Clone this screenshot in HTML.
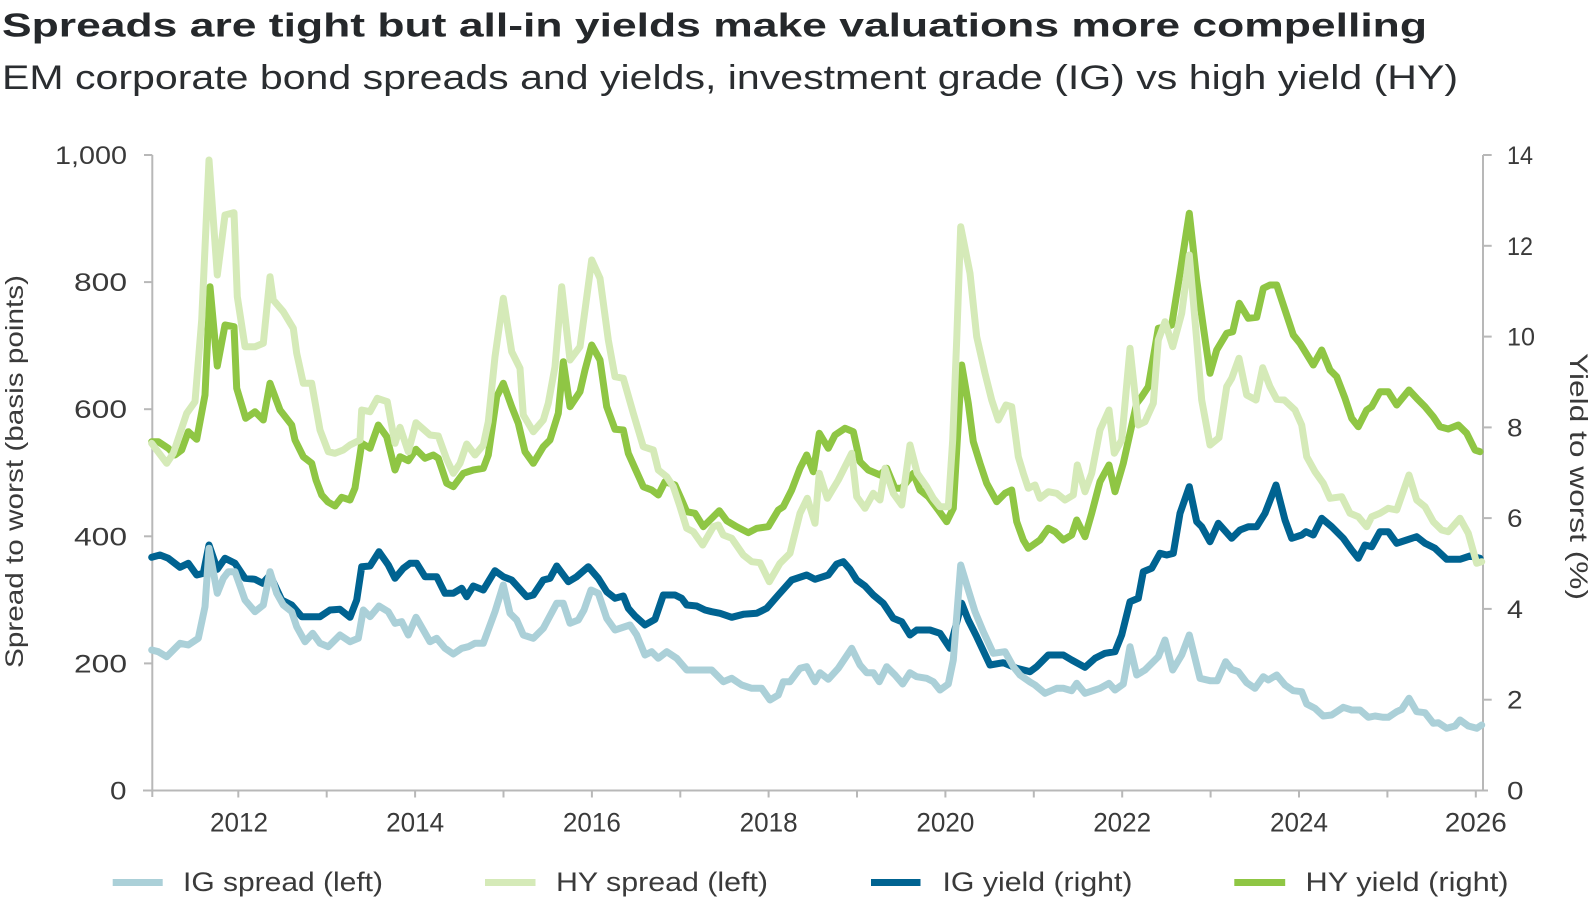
<!DOCTYPE html>
<html>
<head>
<meta charset="utf-8">
<style>
  html, body { margin: 0; padding: 0; background: #ffffff; }
  svg { display: block; }
  text { font-family: "Liberation Sans", "DejaVu Sans", sans-serif; }
</style>
</head>
<body>
<svg width="1593" height="900" viewBox="0 0 1593 900" xmlns="http://www.w3.org/2000/svg">
  <rect x="0" y="0" width="1593" height="900" fill="#ffffff"/>

  <!-- Title & subtitle -->
  <text x="2" y="36.5" font-size="33" font-weight="bold" fill="#25282b" textLength="1425" lengthAdjust="spacingAndGlyphs">Spreads are tight but all-in yields make valuations more compelling</text>
  <text x="2" y="89" font-size="34" fill="#2a2d30" textLength="1456" lengthAdjust="spacingAndGlyphs">EM corporate bond spreads and yields, investment grade (IG) vs high yield (HY)</text>

  <!-- Axes -->
  <g stroke="#b8b8b8" stroke-width="2" fill="none">
    <line x1="152.3" y1="155" x2="152.3" y2="797"/>
    <line x1="143" y1="790.5" x2="1488" y2="790.5"/>
    <line x1="1483" y1="155" x2="1483" y2="790.5"/>
    <line x1="144" y1="155" x2="152.3" y2="155"/>
    <line x1="144" y1="282.1" x2="152.3" y2="282.1"/>
    <line x1="144" y1="409.2" x2="152.3" y2="409.2"/>
    <line x1="144" y1="536.3" x2="152.3" y2="536.3"/>
    <line x1="144" y1="663.4" x2="152.3" y2="663.4"/>
    <line x1="1483" y1="155" x2="1491.7" y2="155"/>
    <line x1="1483" y1="245.8" x2="1491.7" y2="245.8"/>
    <line x1="1483" y1="336.6" x2="1491.7" y2="336.6"/>
    <line x1="1483" y1="427.4" x2="1491.7" y2="427.4"/>
    <line x1="1483" y1="518.1" x2="1491.7" y2="518.1"/>
    <line x1="1483" y1="608.9" x2="1491.7" y2="608.9"/>
    <line x1="1483" y1="699.7" x2="1491.7" y2="699.7"/>
    <line x1="238.3" y1="790.5" x2="238.3" y2="797.5"/>
    <line x1="326.7" y1="790.5" x2="326.7" y2="797.5"/>
    <line x1="415.1" y1="790.5" x2="415.1" y2="797.5"/>
    <line x1="503.5" y1="790.5" x2="503.5" y2="797.5"/>
    <line x1="591.9" y1="790.5" x2="591.9" y2="797.5"/>
    <line x1="680.3" y1="790.5" x2="680.3" y2="797.5"/>
    <line x1="768.6" y1="790.5" x2="768.6" y2="797.5"/>
    <line x1="857.0" y1="790.5" x2="857.0" y2="797.5"/>
    <line x1="945.4" y1="790.5" x2="945.4" y2="797.5"/>
    <line x1="1033.8" y1="790.5" x2="1033.8" y2="797.5"/>
    <line x1="1122.2" y1="790.5" x2="1122.2" y2="797.5"/>
    <line x1="1210.6" y1="790.5" x2="1210.6" y2="797.5"/>
    <line x1="1299.0" y1="790.5" x2="1299.0" y2="797.5"/>
    <line x1="1387.4" y1="790.5" x2="1387.4" y2="797.5"/>
    <line x1="1475.8" y1="790.5" x2="1475.8" y2="797.5"/>
  </g>

  <!-- Left tick labels -->
  <g font-size="25" fill="#3a3a3a">
    <text x="55" y="164" textLength="72" lengthAdjust="spacingAndGlyphs">1,000</text>
    <text x="74" y="291.1" textLength="53" lengthAdjust="spacingAndGlyphs">800</text>
    <text x="74" y="418.2" textLength="53" lengthAdjust="spacingAndGlyphs">600</text>
    <text x="74" y="545.3" textLength="53" lengthAdjust="spacingAndGlyphs">400</text>
    <text x="74" y="672.4" textLength="53" lengthAdjust="spacingAndGlyphs">200</text>
    <text x="110" y="799.5" textLength="16.5" lengthAdjust="spacingAndGlyphs">0</text>
  </g>

  <!-- Right tick labels -->
  <g font-size="25" fill="#3a3a3a">
    <text x="1507" y="164" textLength="26" lengthAdjust="spacingAndGlyphs">14</text>
    <text x="1507" y="254.8" textLength="26" lengthAdjust="spacingAndGlyphs">12</text>
    <text x="1507" y="345.6" textLength="28" lengthAdjust="spacingAndGlyphs">10</text>
    <text x="1507" y="436.4" textLength="15.5" lengthAdjust="spacingAndGlyphs">8</text>
    <text x="1507" y="527.1" textLength="15.5" lengthAdjust="spacingAndGlyphs">6</text>
    <text x="1507" y="617.9" textLength="16" lengthAdjust="spacingAndGlyphs">4</text>
    <text x="1507" y="708.7" textLength="15.5" lengthAdjust="spacingAndGlyphs">2</text>
    <text x="1507" y="799.5" textLength="16.5" lengthAdjust="spacingAndGlyphs">0</text>
  </g>

  <!-- X tick labels -->
  <g font-size="27" fill="#3a3a3a" text-anchor="middle">
    <text x="239" y="831.5" textLength="58" lengthAdjust="spacingAndGlyphs">2012</text>
    <text x="415.1" y="831.5" textLength="58" lengthAdjust="spacingAndGlyphs">2014</text>
    <text x="591.9" y="831.5" textLength="58" lengthAdjust="spacingAndGlyphs">2016</text>
    <text x="768.6" y="831.5" textLength="58" lengthAdjust="spacingAndGlyphs">2018</text>
    <text x="945.4" y="831.5" textLength="58" lengthAdjust="spacingAndGlyphs">2020</text>
    <text x="1122.2" y="831.5" textLength="58" lengthAdjust="spacingAndGlyphs">2022</text>
    <text x="1299.0" y="831.5" textLength="58" lengthAdjust="spacingAndGlyphs">2024</text>
    <text x="1475.8" y="831.5" textLength="62" lengthAdjust="spacingAndGlyphs">2026</text>
  </g>

  <!-- Axis titles -->
  <text transform="translate(23,471.5) rotate(-90)" font-size="25" fill="#3a3a3a" text-anchor="middle" textLength="393" lengthAdjust="spacingAndGlyphs">Spread to worst (basis points)</text>
  <text transform="translate(1570,476.5) rotate(90)" font-size="25" fill="#3a3a3a" text-anchor="middle" textLength="247" lengthAdjust="spacingAndGlyphs">Yield to worst (%)</text>

  <!-- Series -->
  <g fill="none" stroke-width="7" stroke-linejoin="round" stroke-linecap="round">
    <polyline stroke="#006391" points="151.7,557.3 160,555 168.3,558.3 180,567.3 188.3,563.3 196.7,575 203.3,573.3 209,545 217.3,569.3 225,558.3 235,563.3 245,578.3 255,579.3 262.7,583.3 270,575 281.7,600 291.7,605 301.7,616.7 320,616.7 330,610 340,609.3 350,617.3 356.7,600 361.7,566.7 370,566 379,551.7 388.3,565 395,578.3 403.3,568.3 410,563.3 416.7,563.3 425,576.7 436.7,576.7 445,593.3 453.3,593.3 461.7,588.3 466.7,596.7 473.3,586 483.3,590 495,570.7 503.3,576.7 511.7,580 526.7,596.7 533.3,595 543.3,580 550,578.3 556.7,566 568.3,581.7 576.7,576.7 588.3,566.7 598.3,578.3 606.7,591.7 615,598.3 623.3,596 628.3,608.3 635,616 645,625 655,619.3 663.3,595 675,595 681.7,598.3 686.7,605 696.7,606 705,610 711.7,611.7 720,613.3 731.7,617.3 743.3,614.3 756.7,613.3 766.7,608.3 778.3,595 791.7,580 806.7,575 815,579.3 828.3,575 836.7,564 843.3,561.7 850,569.3 856.7,580 865,586 873.3,595 883.3,603.3 893.3,618.3 901.7,621.7 910,635 916.7,630 930,630 940,633.3 950,648.3 961.7,603.3 968.3,620 976.7,636.7 990,665 1003.3,662.7 1016.7,668.3 1030,671.7 1036.7,666.7 1048.3,655 1063.3,655 1071.7,660 1085,667.3 1095,658.3 1105,653.3 1115,651.7 1121.7,635 1130,601.7 1138.3,598.3 1143.3,571.7 1151.7,568.3 1160,553.3 1166.7,555 1173.3,553.3 1180,513.3 1189.3,486.7 1196.7,521.7 1201.7,526.7 1210,541.7 1218.3,523.3 1231.7,538.3 1240,530 1248.3,526.7 1256.7,526.7 1265,513.3 1276,485 1285,520 1291.7,538.3 1301.7,535 1306,531.7 1313.3,535 1321.7,518.3 1331.7,526.7 1343.3,538.3 1351.7,550 1358.3,558.3 1365,545 1371.7,546.7 1380,531.7 1388.3,531.7 1396.7,543.3 1406.7,540 1416.7,536.7 1425,543.3 1435,548.3 1446.7,559.3 1460,559.3 1470,556 1480,558.3"/>
    <polyline stroke="#8fc644" points="151.7,441.7 158.3,441.7 168.3,448.3 175,455 181.7,450 188.3,431.7 196.7,439.3 205,395 210,286.7 217.3,366 225,325 234,326.7 236.7,388.3 245.7,418.3 255,411.7 263.3,420 270,383.3 280,410 291.7,425 295,440 303.3,456.7 311.7,463.3 316,480 321.7,495 328,502 335,506 341.7,497.3 350,500 355,488 361.7,443.3 370,448.3 378.3,425 386.7,436.7 395,470 400,456.7 408.3,460.7 416,449.3 425,458.3 433.3,455 438.3,458.3 446.7,483.3 453.3,486.7 463.3,473.3 473.3,470 483.3,468.3 488.3,455 496.7,396.7 503.3,383.3 511.7,406.7 518.3,423.3 525,451.7 533.3,463.3 543.3,446.7 550,440 558.3,413.3 563.3,361.7 570,406.7 580,391.7 585,370 591.7,345 600,360 606.7,406.7 615,429.3 623.3,430 628.3,453.3 635,468.3 643.3,486.7 651.7,490 658.3,495 665,481.7 675,485 681.7,500 686.7,511.7 695,513.3 703.3,526.7 711.7,518.3 719.3,510.7 726.7,520.7 736.7,526.7 748.3,532.7 756.7,528.3 768.3,526.7 778.3,510 783.3,506.7 791.7,490 800,468.3 806.7,455 813.3,471.7 819.3,433.3 828.3,448.3 835,435 845,428.3 853.3,431.7 860,461.7 868.3,470 880,475 886.7,468.3 895,488.3 901.7,488.3 908.3,480 913.3,473.3 920,490 928.3,496.7 938.3,510 946.7,521.7 953.3,508.3 961.7,365 968.3,403.3 973.3,441.7 980,463.3 986.7,483.3 996.7,501.7 1005,493.3 1011.7,490 1016.7,521.7 1023.3,540 1028.3,548.3 1040,540 1048.3,528.3 1055,531.7 1063.3,540 1071.7,535 1076.7,520 1085,536.7 1091.7,513.3 1100,481.7 1109,465 1115,491.7 1123.3,463.3 1130,433.3 1136.7,403.3 1141.7,396.7 1148.3,386.7 1158.3,328.3 1166,326.7 1171.7,325 1180,273.3 1189.3,213.3 1196.7,280 1203.3,326.7 1210,373.3 1216.7,350 1226.7,333.3 1232.7,331.7 1239.3,303.3 1248.3,318.3 1256.7,317.3 1263.3,288.3 1270,285 1276.7,285 1285,310 1293.3,335 1300,343.3 1313.3,365 1321.7,350 1330,370 1336.7,376.7 1345,398.3 1351.7,418.3 1358.3,426.7 1366.7,410 1371.7,406.7 1380,391.7 1388.3,391.7 1396.7,405 1409,390 1416.7,398.3 1425,406.7 1433.3,416.7 1440,426.7 1448.3,429 1458.3,425 1466.7,433.3 1475,450 1480,451.7"/>
    <polyline stroke="#abd0d8" points="151.7,650 158.3,651.7 166.7,656.7 180,643.3 188.3,645 198.3,638.3 205,606.7 209,548.3 217.3,593.3 223.3,578.3 228.3,571.7 235,571.7 245,600 255,611.7 263.3,605 270,571.7 276.7,593.3 283.3,605 291.7,611.7 296.7,626.7 305,641.7 312.7,633.3 320,643.3 328.3,646.7 340,635 350,641.7 358.3,638.3 363.3,610 370,616.7 379,606 388.3,611.7 395,623.3 401.7,621.7 408.3,635 416,617.3 423.3,630 430,641.7 436.7,638.3 445,648.3 453.3,654 461.7,648.3 468.3,646.7 475,643.3 483.3,643.3 495,611.7 503.3,585 510,613.3 516.7,620 523.3,635 533.3,638.3 543.3,628.3 556.7,603.3 563.3,603.3 570,623.3 578.3,620 584,610 591,590 598.3,593.3 606.7,618.3 615,630 630,625 636.7,635 645,655 651.7,651.7 658.3,658.3 666.7,651.7 676.7,658.3 686.7,670 698.3,670 711.7,670 723.3,681.7 731.7,678.3 741.7,685 751.7,688.3 761.7,688.3 770,700 778.3,695 783.3,681.7 790,681.7 800,668.3 806.7,666.7 815,681.7 820,672.7 828.3,679.3 838.3,668.3 851.7,648.3 860,665 866.7,672.7 873.3,672.7 879.3,681.7 886.7,666.7 895,675 902.7,684 910,672.7 916.7,676.7 926.7,678.3 933.3,681.7 940,690 948.3,684 953.3,660 960.7,565 968.3,590 975,611.7 983.3,631.7 993.3,653.3 1005,651.7 1013.3,666.7 1020,675 1030,682 1035,685 1045,693.3 1056.7,688.3 1063.3,688.3 1071.7,690.7 1076.7,683.3 1085,693.3 1100,688.3 1109,683.3 1115,690 1123.3,684 1130,646.7 1136.7,675 1145,670 1158.3,656.7 1165,640 1172.7,670 1181.7,655 1189.3,635 1200,678.3 1210,680.7 1217.3,680.7 1225.7,661.7 1231.7,669.3 1238.3,671.7 1246.7,682.7 1255,688.3 1263.3,676.7 1268.3,680 1276.7,675 1285,685 1293.3,690.7 1301.7,691.7 1306.7,704 1315,708.3 1323.3,716 1331.7,715 1343.3,707.3 1351.7,710 1360,710 1368.3,717.3 1375,716 1383.3,717.3 1388.3,717.3 1396.7,711.7 1401.7,709.3 1409,698.3 1416.7,711.7 1425,712.7 1433.3,723.3 1438.3,722.7 1446.7,728.3 1455,726 1460,720 1468.3,726 1476.7,728.3 1481.7,725"/>
    <polyline stroke="#d5eab8" points="151.7,443.3 166.7,463.3 173.3,453.3 180,433.3 186.7,413.3 195,401.7 201.7,320 209,160 217.3,275 225,215 234,212.7 237.3,296.7 245,346.7 255,346.7 263.3,343.3 270,276.7 273.3,300 283.3,311.7 293.3,328.3 296.7,353.3 303.3,383.3 311.7,383.3 320,430 328.3,451.7 335,453.3 343.3,450 350,445 360,440 361.7,410 370,411.7 377.3,398.3 387.3,401.7 395,443.3 400,427.3 408.3,451.7 416,422.7 430,435 438.3,436 446.7,459.3 453.3,473.3 460,463.3 466.7,444 475,455 483.3,445 488.3,421.7 495,356.7 503.3,298.3 511.7,351.7 520,368.3 523.3,415 533.3,431.7 543.3,420 548.3,403.3 555,366.7 561.7,286.7 570,360 580,346.7 585,310 591.7,260 600,278.3 608.3,340 615,376.7 623.3,378.3 633.3,413.3 643.3,446.7 653.3,450 658.3,470 666.7,476.7 673.3,486.7 680,506.7 686.7,528.3 693.3,531.7 702.7,545 713.3,526.7 718.3,525 723.3,535 731.7,538.3 743.3,555 751.7,561.7 760,562.7 769.3,581.7 780,563.3 790,553.3 800,513.3 807.3,498.3 815,523.3 819.3,473.3 827.3,498.3 838.3,480 851.7,453.3 856.7,496.7 865,508.3 873.3,493.3 880,500 885,468.3 893.3,493.3 901.7,505 910,445 917.3,473.3 926.7,486.7 933.3,498.3 940,506.7 948.3,506.7 952.7,440 956.7,340 960.7,226.7 970,273.3 976.7,336.7 985,373.3 991.7,400 998.3,420 1006,405 1011.7,406.7 1018.3,456.7 1023.3,473.3 1028.3,488.3 1035,485 1040,498.3 1048.3,491.7 1056.7,493.3 1065,500 1073.3,495 1077.3,465 1085,491.7 1091.7,473.3 1100,430 1109,410 1114.3,453.3 1121.7,440 1130,348.3 1138.3,425 1145,421.7 1153.3,403.3 1158.3,340 1165,321.7 1172.7,346.7 1181.7,313.3 1189.3,255 1196.7,340 1201.7,400 1210,445 1219,437.7 1226.7,386.7 1231.7,378.3 1239,358.3 1246.7,395 1256,400 1262.7,367.7 1270,386.7 1276.7,399.3 1284.3,400 1295,410 1301.7,425 1306.7,456.7 1315,471.7 1323.3,483.3 1330,498.3 1341.7,496.7 1350,513.3 1358.3,516.7 1366.7,526.7 1371.7,516.7 1380,513.3 1388.3,508.3 1396.7,510 1409,475 1416.7,500 1425,506.7 1433.3,521.7 1441.7,530 1448.3,531.7 1460,518.3 1468.3,533.3 1476.7,563.3 1481.7,561.7"/>
  </g>

  <!-- Legend -->
  <g stroke-width="7">
    <line x1="112.7" y1="882.5" x2="162.7" y2="882.5" stroke="#abd0d8"/>
    <line x1="485" y1="882.5" x2="535.5" y2="882.5" stroke="#d5eab8"/>
    <line x1="871" y1="882.5" x2="920.5" y2="882.5" stroke="#006391"/>
    <line x1="1234.3" y1="882.5" x2="1285.2" y2="882.5" stroke="#8fc644"/>
  </g>
  <g font-size="27" fill="#3a3a3a">
    <text x="183" y="891" textLength="200" lengthAdjust="spacingAndGlyphs">IG spread (left)</text>
    <text x="556" y="891" textLength="212" lengthAdjust="spacingAndGlyphs">HY spread (left)</text>
    <text x="942.5" y="891" textLength="190" lengthAdjust="spacingAndGlyphs">IG yield (right)</text>
    <text x="1305.5" y="891" textLength="203" lengthAdjust="spacingAndGlyphs">HY yield (right)</text>
  </g>
</svg>
</body>
</html>
